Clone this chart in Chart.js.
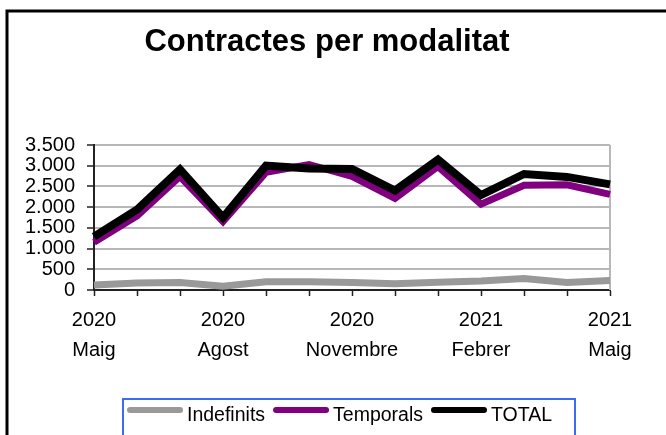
<!DOCTYPE html>
<html lang="ca">
<head>
    <meta charset="UTF-8">
    <title>Contractes per modalitat</title>
    <script src="https://cdn.jsdelivr.net/npm/chart.js"></script>
    <style>
        body {
            margin: 0;
            padding: 0;
            background: #fff;
        }
        #grafic {
            display: block;
        }
    </style>
</head>
<body>
    <canvas id="grafic" width="666" height="435"></canvas>
    <script>
        // Dades del gràfic
        const mesos = ['2020 Maig', '2020 Juny', '2020 Juliol', '2020 Agost', '2020 Setembre', '2020 Octubre',
            '2020 Novembre', '2020 Desembre', '2021 Gener', '2021 Febrer', '2021 Març', '2021 Abril', '2021 Maig'];
        const indefinits = [120, 170, 180, 90, 200, 200, 180, 150, 190, 220, 280, 180, 230];
        const temporals = [1150, 1790, 2740, 1650, 2840, 3030, 2740, 2210, 2980, 2070, 2530, 2540, 2310];
        const total = [1290, 1940, 2910, 1750, 3000, 2930, 2920, 2400, 3150, 2290, 2800, 2730, 2550];
        const titol = 'Contractes per modalitat';

        const fontFamily = '"Liberation Sans", Arial, sans-serif';

        // Marc, títol i llegenda dibuixats a mà
        const decoracio = {
            id: 'decoracio',
            beforeDatasetsDraw(chart) {
                const { ctx, chartArea } = chart;
                ctx.save();
                ctx.strokeStyle = '#b8b8b8';
                ctx.lineWidth = 2;
                ctx.beginPath();
                ctx.moveTo(chartArea.right, chartArea.top);
                ctx.lineTo(chartArea.right, chartArea.bottom);
                ctx.stroke();
                ctx.restore();
            },
            afterDraw(chart) {
                const ctx = chart.ctx;
                ctx.save();

                // marc exterior
                ctx.strokeStyle = '#000';
                ctx.lineWidth = 3;
                ctx.beginPath();
                ctx.moveTo(7, 440);
                ctx.lineTo(7, 11);
                ctx.lineTo(670, 11);
                ctx.stroke();

                // títol
                ctx.fillStyle = '#000';
                ctx.font = 'bold 31px ' + fontFamily;
                ctx.textAlign = 'center';
                ctx.textBaseline = 'alphabetic';
                ctx.fillText(titol, 327, 51);

                // llegenda
                ctx.strokeStyle = '#3a6cf6';
                ctx.lineWidth = 2;
                ctx.strokeRect(123, 399, 452, 50);

                ctx.font = '19.5px ' + fontFamily;
                ctx.textAlign = 'left';
                ctx.textBaseline = 'middle';
                let x = 127;
                chart.data.datasets.forEach(ds => {
                    ctx.strokeStyle = ds.borderColor;
                    ctx.lineWidth = 6;
                    ctx.lineCap = 'round';
                    ctx.beginPath();
                    ctx.moveTo(x + 3, 410);
                    ctx.lineTo(x + 53, 410);
                    ctx.stroke();
                    ctx.fillStyle = '#000';
                    ctx.fillText(ds.label, x + 60, 416);
                    x += 60 + ctx.measureText(ds.label).width + 8;
                });
                ctx.restore();
            }
        };

        const ctx = document.getElementById('grafic').getContext('2d');
        new Chart(ctx, {
            type: 'line',
            data: {
                labels: mesos,
                datasets: [
                    {
                        label: 'Indefinits',
                        data: indefinits,
                        borderColor: '#999999',
                        borderWidth: 7,
                        order: 3
                    },
                    {
                        label: 'Temporals',
                        data: temporals,
                        borderColor: '#800080',
                        borderWidth: 7,
                        order: 2
                    },
                    {
                        label: 'TOTAL',
                        data: total,
                        borderColor: '#000000',
                        borderWidth: 8,
                        order: 1
                    }
                ]
            },
            options: {
                responsive: false,
                animation: false,
                devicePixelRatio: 1,
                layout: {
                    padding: { left: 0, right: 56, top: 145, bottom: 45 }
                },
                elements: {
                    point: { radius: 0, hoverRadius: 0 },
                    line: { tension: 0, fill: false, borderJoinStyle: 'miter' }
                },
                plugins: {
                    legend: { display: false },
                    title: { display: false },
                    tooltip: { enabled: false }
                },
                scales: {
                    x: {
                        offset: false,
                        grid: {
                            drawOnChartArea: false,
                            drawTicks: true,
                            tickLength: 6,
                            tickColor: '#222',
                            tickWidth: 1.5
                        },
                        border: { color: '#222', width: 2 },
                        ticks: {
                            autoSkip: false,
                            maxRotation: 0,
                            padding: 9,
                            color: '#000',
                            font: { family: fontFamily, size: 20, lineHeight: 1.5 },
                            callback: function (value, index) {
                                if (index % 3 !== 0) return '';
                                return mesos[index].split(' ');
                            }
                        },
                        afterFit(scale) {
                            scale.height = 100;
                            scale.paddingLeft = 0;
                            scale.paddingRight = 0;
                        }
                    },
                    y: {
                        min: 0,
                        max: 3500,
                        grid: {
                            color: '#b8b8b8',
                            lineWidth: 2,
                            drawTicks: true,
                            tickLength: 7,
                            tickColor: '#222',
                            tickWidth: 1.5
                        },
                        border: { color: '#222', width: 2 },
                        ticks: {
                            stepSize: 500,
                            autoSkip: false,
                            padding: 12,
                            color: '#000',
                            font: { family: fontFamily, size: 20, lineHeight: 1 },
                            callback: v => v.toString().replace(/\B(?=(\d{3})+(?!\d))/g, '.')
                        },
                        afterFit(scale) {
                            scale.width = 94;
                        }
                    }
                }
            },
            plugins: [decoracio]
        });
    </script>
</body>
</html>
